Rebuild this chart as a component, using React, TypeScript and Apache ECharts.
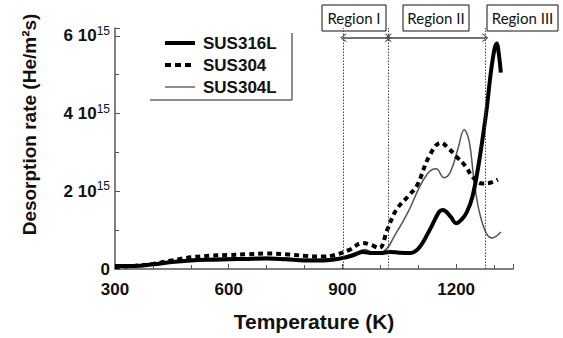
import React, { useEffect, useRef } from "react";
import * as echarts from "echarts";

// Temperature (K) and desorption rate (units of 10^15 He/m^2 s)
const sus316L: [number, number][] = [
  [300, 0.08], [350, 0.08], [400, 0.12], [450, 0.18], [500, 0.22], [550, 0.24], [600, 0.25],
  [650, 0.26], [700, 0.27], [750, 0.25], [800, 0.22], [850, 0.22], [900, 0.28], [930, 0.36],
  [955, 0.44], [980, 0.41], [1000, 0.41], [1025, 0.44], [1050, 0.42], [1076, 0.41], [1100, 0.52],
  [1130, 1.0], [1155, 1.47], [1165, 1.52], [1185, 1.35], [1200, 1.18], [1215, 1.28], [1228, 1.46],
  [1243, 1.86], [1260, 2.73], [1279, 4.0], [1295, 5.3], [1307, 5.8], [1313, 5.5], [1318, 5.05],
];
const sus304: [number, number][] = [
  [300, 0.05], [350, 0.08], [400, 0.13], [450, 0.22], [500, 0.3], [550, 0.34], [600, 0.36],
  [650, 0.38], [700, 0.4], [750, 0.38], [800, 0.34], [850, 0.32], [880, 0.36], [920, 0.5],
  [953, 0.67], [975, 0.62], [997, 0.54], [1018, 1.0], [1042, 1.52], [1076, 1.9], [1097, 2.15],
  [1129, 2.9], [1160, 3.25], [1180, 3.1], [1200, 2.9], [1226, 2.63], [1243, 2.37], [1268, 2.2],
  [1290, 2.22], [1310, 2.3],
];
const sus304L: [number, number][] = [
  [300, 0.05], [350, 0.07], [400, 0.12], [450, 0.2], [500, 0.25], [550, 0.27], [600, 0.28],
  [650, 0.29], [700, 0.3], [750, 0.28], [800, 0.25], [850, 0.25], [900, 0.3], [930, 0.4],
  [960, 0.5], [980, 0.42], [1005, 0.44], [1042, 0.93], [1076, 1.52], [1103, 2.1], [1129, 2.5],
  [1147, 2.58], [1168, 2.35], [1185, 2.5], [1205, 3.1], [1221, 3.58], [1234, 3.3], [1247, 2.3],
  [1260, 1.52], [1279, 0.93], [1295, 0.8], [1318, 0.95],
];
const seriesNames = ["SUS316L", "SUS304", "SUS304L"];
const regionBounds = [902, 1021, 1277];
const regionLabels = ["Region I", "Region II", "Region III"];
const yTicks = [0, 2, 4, 6];

const App: React.FC = () => {
  const ref = useRef<HTMLDivElement>(null);
  useEffect(() => {
    if (!ref.current) return;
    const chart = echarts.init(ref.current, null, { renderer: "svg" });
    const font = "Liberation Sans, Arial, sans-serif";
    const chevron = "path://M0,10 L5,0 L10,10 L8.6,10 L5,2.8 L1.4,10 Z";
    const arrowY = 5.95;
    const boxes = [
      { x: 322, w: 64 },
      { x: 403, w: 66 },
      { x: 487, w: 71 },
    ];
    const legendStyles = [
      { stroke: "#000", lineWidth: 4, lineDash: null as any },
      { stroke: "#000", lineWidth: 4, lineDash: [6, 4] },
      { stroke: "#666", lineWidth: 1.5, lineDash: null as any },
    ];
    const legendGraphics = seriesNames.flatMap((n, i) => {
      const y = 43 + i * 22;
      return [
        {
          type: "line",
          shape: { x1: 165, y1: y, x2: 195, y2: y },
          style: { ...legendStyles[i], lineDash: legendStyles[i].lineDash || undefined },
        },
        {
          type: "text",
          x: 203,
          y,
          style: {
            text: n,
            fontFamily: font,
            fontWeight: "bold",
            fontSize: 17,
            fill: "#111",
            verticalAlign: "middle",
          },
        },
      ];
    });
    chart.setOption({
      animation: false,
      backgroundColor: "#fff",
      grid: { left: 115, right: 50, top: 28, bottom: 69 },
      xAxis: {
        type: "value",
        min: 300,
        max: 1350,
        interval: 300,
        name: "Temperature (K)",
        nameLocation: "middle",
        nameGap: 42,
        nameTextStyle: { fontFamily: font, fontWeight: "bold", fontSize: 21, color: "#111" },
        axisLine: { lineStyle: { color: "#555", width: 1.5 } },
        axisTick: { inside: true, length: 5, lineStyle: { color: "#555" } },
        minorTick: { show: true, splitNumber: 3, length: 4, lineStyle: { color: "#555" } },
        splitLine: { show: false },
        axisLabel: {
          margin: 12,
          fontFamily: font,
          fontWeight: "bold",
          fontSize: 17,
          color: "#111",
          showMaxLabel: false,
          formatter: (v: number) => String(v),
        },
      },
      yAxis: {
        type: "value",
        min: 0,
        max: 6.2,
        interval: 2,
        name: "Desorption rate (He/m²s)",
        nameLocation: "middle",
        nameGap: 76,
        nameTextStyle: {
          fontFamily: font,
          fontWeight: "bold",
          fontSize: 19,
          color: "#111",
          padding: [0, 0, 0, 48],
        },
        axisLine: { show: true, lineStyle: { color: "#555", width: 1.5 } },
        axisTick: { show: true, inside: true, length: 5, lineStyle: { color: "#555" } },
        minorTick: { show: true, splitNumber: 2, length: 4, lineStyle: { color: "#555" } },
        splitLine: { show: false },
        axisLabel: {
          margin: 5,
          showMaxLabel: false,
          formatter: (v: number) => (yTicks.includes(v) ? (v === 0 ? "{m|0}" : `{m|${v} 10}{s|15}`) : ""),
          rich: {
            m: { fontFamily: font, fontWeight: "bold", fontSize: 17, color: "#111" },
            s: { fontFamily: font, fontSize: 12, color: "#111", verticalAlign: "bottom", padding: [0, 0, 10, 0] },
          },
        },
      },
      series: [
        {
          name: seriesNames[0],
          type: "line",
          smooth: 0.4,
          showSymbol: false,
          symbol: "none",
          data: sus316L,
          lineStyle: { color: "#000", width: 4 },
          itemStyle: { color: "#000" },
          z: 3,
          clip: false,
          markLine: {
            silent: true,
            symbol: ["none", "none"],
            label: { show: false },
            lineStyle: { color: "#444", type: [1.5, 1.5], width: 1 },
            data: regionBounds.map((b) => ({ xAxis: b })),
          },
        },
        {
          name: seriesNames[1],
          type: "line",
          smooth: 0.4,
          showSymbol: false,
          symbol: "none",
          data: sus304,
          lineStyle: { color: "#000", width: 4, type: [5, 4] },
          itemStyle: { color: "#000" },
          z: 2,
        },
        {
          name: seriesNames[2],
          type: "line",
          smooth: 0.4,
          showSymbol: false,
          symbol: "none",
          data: sus304L,
          lineStyle: { color: "#555", width: 1.5 },
          itemStyle: { color: "#555" },
          z: 1,
          clip: false,
          markLine: {
            silent: true,
            symbol: [chevron, chevron],
            symbolSize: [9, 6],
            label: { show: false },
            lineStyle: { color: "#444", type: "solid", width: 1.5 },
            data: [
              [{ coord: [regionBounds[0], arrowY] }, { coord: [regionBounds[1], arrowY] }],
              [{ coord: [regionBounds[1], arrowY] }, { coord: [regionBounds[2], arrowY] }],
              [{ coord: [regionBounds[2], arrowY], symbol: chevron }, { coord: [1360, arrowY], symbol: "none" }],
            ],
          },
        },
      ],
      graphic: [
        { type: "line", shape: { x1: 292, y1: 33, x2: 292, y2: 100 }, style: { stroke: "#666", lineWidth: 1.5 } },
        { type: "line", shape: { x1: 150, y1: 100, x2: 292, y2: 100 }, style: { stroke: "#666", lineWidth: 1.5 } },
        ...legendGraphics,
        ...boxes.map((b, i) => ({
          type: "group",
          children: [
            { type: "rect", shape: { x: b.x, y: 5, width: b.w, height: 26 }, style: { fill: "#fff", stroke: "#111", lineWidth: 1 } },
            {
              type: "text",
              x: b.x + b.w / 2,
              y: 18,
              style: {
                text: regionLabels[i],
                fontFamily: "Lato, sans-serif",
                fontSize: 15,
                fill: "#111",
                align: "center",
                verticalAlign: "middle",
              },
            },
          ],
        })),
      ],
    });
    return () => chart.dispose();
  }, []);
  return <div ref={ref} style={{ width: 563, height: 338, position: "absolute", left: 0, top: 0 }} />;
};

export default App;
